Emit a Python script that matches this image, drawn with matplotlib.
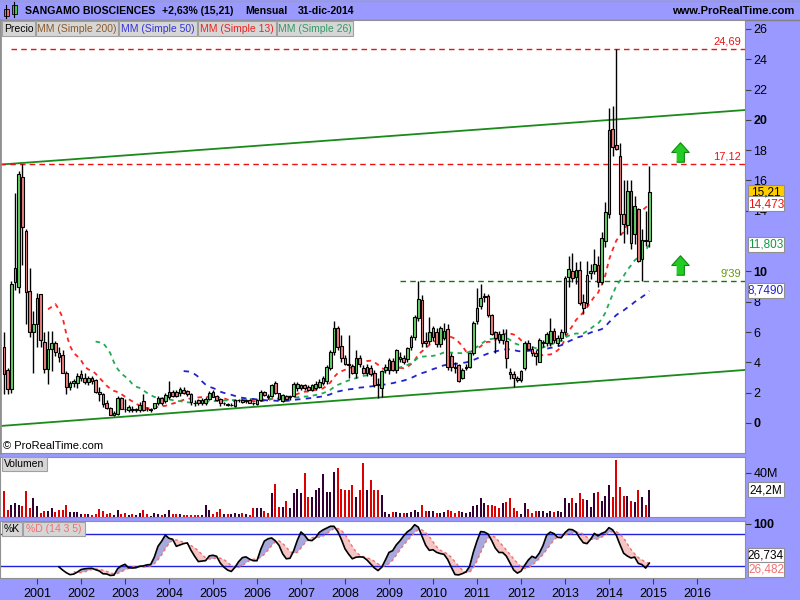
import matplotlib
matplotlib.use("Agg")
import matplotlib.pyplot as plt
import numpy as np
import pandas as pd
from matplotlib.patches import Rectangle

plt.rcParams['font.family'] = ['Liberation Sans', 'DejaVu Sans']

# monthly candles, Apr-2000 .. Dec-2014
opens = [5.0, 3.5, 2.25, 9.3, 9.0, 16.2, 12.7, 8.7, 6.0,
         6.5, 8.5, 5.35, 3.56, 4.9, 5.3, 4.6, 4.5, 3.3, 2.4, 2.64, 2.64,
         3.0, 3.0, 2.7, 3.0, 2.85, 2.05, 1.9, 1.3, 1.0, 0.55, 0.6, 1.65,
         0.95, 0.86, 0.95, 0.88, 0.86, 1.47, 0.95, 0.88, 1.0, 1.3, 1.63, 1.47,
         1.74, 2.07, 2.07, 1.98, 2.2, 2.1, 1.9, 1.35, 1.5, 1.3, 1.3, 1.6,
         2.07, 1.8, 1.6, 1.3, 1.25, 1.2, 1.1, 1.5, 1.5, 1.45, 1.5, 1.35,
         1.25, 1.52, 2.07, 1.75, 1.78, 2.66, 1.98, 1.47, 1.8, 1.7, 1.78, 2.3,
         2.3, 2.5, 2.4, 2.2, 2.3, 2.4, 2.64, 2.8, 3.6, 4.7, 6.3, 5.1,
         4.3, 3.9, 3.76, 3.3, 4.3, 3.6, 3.3, 3.6, 3.3, 2.55, 2.3, 3.5,
         3.5, 4.1, 3.5, 4.25, 4.3, 4.2, 5.0, 5.7, 6.9, 8.1, 5.4, 5.4,
         5.7, 6.0, 5.2, 5.6, 6.2, 4.4, 3.7, 3.8, 3.0, 3.6, 3.7, 4.6,
         6.7, 7.7, 8.3, 8.4, 7.1, 6.0, 5.9, 5.5, 5.4, 3.35, 3.25, 2.95,
         2.84, 3.6, 5.26, 4.9, 4.6, 4.05, 5.25, 5.3, 5.26, 6.1, 5.3, 5.6,
         6.0, 9.6, 10.0, 9.6, 10.1, 8.0, 7.9, 9.9, 10.05, 10.4, 9.33, 12.0,
         13.8, 19.4, 18.35, 17.6, 13.8, 13.07, 15.3, 12.5, 14.1, 10.8, 12.1, 12.0]
highs = [6.0, 3.6, 9.4, 15.2, 16.6, 17.12, 12.8, 10.2, 7.4,
         8.6, 8.5, 6.0, 6.1, 6.1, 5.4, 5.0, 4.8, 3.4, 2.8, 2.9, 3.3,
         3.5, 3.3, 3.1, 3.1, 2.9, 2.4, 1.95, 1.5, 1.05, 0.8, 1.75, 1.7,
         1.6, 1.2, 1.1, 1.0, 1.4, 1.9, 1.05, 1.0, 1.35, 1.75, 1.7, 1.95,
         2.77, 2.2, 2.2, 2.4, 2.4, 2.2, 2.0, 1.5, 1.6, 1.65, 1.7, 2.1,
         2.2, 1.85, 1.65, 1.4, 1.3, 1.3, 1.55, 1.6, 1.6, 1.6, 1.6, 1.4,
         1.6, 2.2, 2.1, 1.9, 2.6, 2.8, 2.0, 1.9, 1.85, 1.8, 2.7, 2.7,
         2.6, 2.6, 2.5, 2.6, 2.8, 2.9, 3.1, 3.8, 4.8, 6.7, 6.4, 5.8,
         4.5, 5.8, 3.9, 4.8, 4.5, 3.8, 3.9, 3.8, 3.5, 3.0, 3.5, 3.9,
         4.3, 4.3, 4.9, 4.7, 4.5, 5.0, 5.8, 7.1, 9.39, 8.45, 6.0, 7.0,
         6.4, 6.3, 6.4, 6.6, 6.5, 4.6, 4.0, 3.9, 3.6, 3.9, 4.7, 6.7,
         8.9, 9.17, 8.6, 8.5, 7.2, 6.1, 6.1, 6.2, 6.2, 3.6, 3.4, 3.1,
         3.5, 5.4, 5.5, 5.1, 4.8, 5.6, 5.5, 6.0, 6.9, 6.3, 5.8, 6.2,
         9.7, 11.0, 11.2, 10.6, 10.7, 8.5, 10.7, 10.5, 11.5, 11.0, 12.6, 14.6,
         20.8, 20.9, 24.69, 18.5, 16.0, 16.0, 16.0, 15.0, 14.2, 12.8, 14.0, 16.96]
lows = [1.9, 1.9, 2.0, 8.8, 8.6, 10.4, 6.5, 5.7, 3.3,
        5.0, 5.0, 3.3, 2.6, 3.4, 4.4, 4.0, 3.3, 1.9, 2.2, 2.4, 2.3,
        2.8, 2.6, 2.5, 2.6, 2.0, 1.45, 1.05, 0.9, 0.5, 0.45, 0.55, 0.9,
        0.7, 0.7, 0.75, 0.75, 0.75, 0.8, 0.8, 0.75, 0.9, 1.2, 1.2, 1.35,
        1.6, 1.7, 1.7, 1.8, 1.9, 1.8, 1.2, 1.1, 1.2, 1.2, 1.2, 1.5,
        1.7, 1.45, 1.1, 1.2, 1.15, 1.1, 1.05, 1.4, 1.3, 1.35, 1.3, 1.2,
        1.2, 1.45, 1.8, 1.6, 1.7, 1.9, 1.5, 1.4, 1.5, 1.5, 1.7, 2.1,
        2.2, 2.2, 2.1, 2.1, 2.2, 2.3, 2.5, 2.6, 3.5, 4.5, 4.8, 4.0,
        3.8, 3.0, 3.2, 3.0, 3.7, 3.2, 3.1, 3.1, 2.4, 1.65, 1.7, 3.3,
        3.2, 3.4, 3.3, 4.0, 3.9, 4.0, 4.8, 5.5, 6.7, 5.0, 5.0, 5.2,
        5.4, 5.0, 5.0, 5.5, 3.5, 3.4, 3.3, 2.7, 2.9, 3.5, 3.6, 4.5,
        6.5, 7.5, 8.0, 7.0, 5.8, 4.6, 5.3, 5.2, 3.6, 2.9, 2.35, 2.7,
        2.7, 3.5, 4.8, 4.4, 3.8, 4.0, 5.0, 5.1, 5.1, 5.3, 5.1, 5.4,
        5.8, 9.0, 9.3, 9.2, 7.8, 7.2, 7.7, 9.5, 9.8, 9.0, 9.2, 11.6,
        13.5, 17.6, 18.0, 12.4, 11.9, 12.5, 11.5, 11.8, 10.6, 9.39, 11.7, 11.6]
closes = [3.2, 2.25, 9.2, 10.2, 16.4, 12.9, 8.65, 6.0, 6.5,
          8.25, 5.5, 3.56, 4.9, 5.3, 4.7, 4.35, 3.3, 2.4, 2.64, 2.75, 3.1,
          3.2, 2.7, 3.0, 2.75, 2.05, 1.9, 1.25, 1.0, 0.55, 0.65, 1.65, 0.95,
          0.92, 1.05, 0.88, 0.9, 1.2, 0.86, 0.9, 0.9, 1.3, 1.67, 1.3, 1.85,
          2.07, 1.8, 1.8, 2.24, 1.98, 1.9, 1.4, 1.3, 1.3, 1.55, 1.6, 2.0,
          1.74, 1.5, 1.3, 1.3, 1.2, 1.2, 1.5, 1.5, 1.4, 1.55, 1.35, 1.3,
          1.55, 2.07, 1.85, 1.7, 2.5, 1.98, 1.6, 1.85, 1.6, 1.75, 2.6, 2.55,
          2.5, 2.3, 2.2, 2.5, 2.6, 2.7, 2.97, 3.7, 4.7, 6.3, 5.0, 4.3,
          3.9, 3.8, 3.3, 4.3, 3.9, 3.3, 3.7, 3.2, 2.5, 2.5, 3.4, 3.7,
          4.15, 3.5, 4.8, 4.35, 4.0, 4.95, 5.7, 7.0, 8.2, 5.26, 5.3, 6.0,
          6.3, 5.2, 6.3, 6.1, 3.7, 3.7, 3.6, 2.8, 3.5, 3.7, 4.6, 6.6,
          7.6, 8.25, 8.4, 7.1, 5.9, 5.6, 5.5, 5.9, 4.3, 3.2, 3.0, 2.84,
          3.4, 5.26, 4.9, 4.6, 4.4, 5.5, 5.35, 5.9, 6.1, 5.5, 5.6, 6.0,
          9.55, 10.15, 9.55, 10.1, 7.95, 7.6, 9.77, 10.0, 10.5, 9.33, 12.2, 13.9,
          19.3, 18.2, 18.06, 13.8, 13.1, 15.3, 11.86, 14.3, 10.7, 12.1, 12.0, 15.21]
# volume in millions
volume = [23.6, 6.4, 10.9, 12.4, 10.9, 10, 23.6, 7.9, 17,
          10, 3.9, 5.5, 5.5, 7.9, 4.8, 6.4, 6.4, 10.9, 4.8, 4.2, 4.8,
          2.7, 2.7, 2.7, 1.8, 2.7, 7.3, 5.5, 2.7, 3.9, 1.8, 6.4, 2.7,
          3.9, 1.8, 2.7, 1.8, 3.9, 6.4, 2.7, 1.2, 3.9, 2.7, 1.8, 2.7,
          6.4, 2.7, 2.7, 2.7, 1.8, 1.8, 1.8, 1.8, 1.8, 1.8, 10.9, 6.4,
          2.7, 4.8, 7.3, 2.7, 2.7, 2.7, 3.9, 2.7, 3.9, 2.7, 1.8, 7.9,
          7.9, 7.9, 5.5, 3.9, 22.1, 30, 9.4, 9.4, 14.5, 8.5, 22.1, 25.2,
          21.5, 39.7, 18.5, 18.5, 24.5, 26, 39, 23, 23, 41, 44.5, 25.2,
          24.5, 24.5, 29, 18.5, 24.5, 49.4, 24.5, 33.6, 24.5, 24.5, 20, 4.8,
          2.7, 4.8, 4.8, 4, 4, 4, 4.8, 6, 4.8, 11, 5.5, 5.5,
          5.5, 3.9, 3.9, 4.8, 6.4, 5.5, 3.9, 5.5, 4.8, 3.9, 4.8, 10,
          11, 17, 12.4, 11, 11, 10, 8.5, 13, 14, 17.6, 7.9, 5.5,
          3, 13, 7, 3.9, 5.5, 5.5, 5.5, 3.9, 5.5, 4.8, 5.5, 4.8,
          17, 12.4, 17.6, 12.4, 21.5, 16.4, 15.7, 9.4, 21.5, 22.4, 14.5, 19,
          29, 18, 52, 27, 19, 19, 14.8, 13.9, 24.8, 18, 11, 24.2]

years = list(range(2001, 2017))
first_month = -9          # Apr-2000, counted in months from Jan-2001
level_red = [24.69, 17.12]
level_red_lbl = ['24,69', '17,12']
level_green = 9.39
# trend lines: (month, price) at both ends
trend_hi = ([-10.1, 193.1], [17.05, 20.65])
trend_lo = ([-10.1, 193.1], [-0.2, 3.5])
arrows_x = [175.3, 175.3]
arrows_y = [17.9, 10.4]
price_ticks = [0, 2, 4, 6, 8, 10, 14, 16, 18, 20, 22, 24, 26]   # 12 sits under the MM26 box

W, H = 800, 600
XL = (-10.09, 193.1)


def rect(x0, y0, x1, y1):
    return [x0 / W, 1 - y1 / H, (x1 - x0) / W, (y1 - y0) / H]


o = np.array(opens); hi = np.array(highs); lo = np.array(lows); c = np.array(closes)
x = np.arange(len(c)) + first_month
up = c >= o

fig = plt.figure(figsize=(8, 6), dpi=100)

# background layer
bg = fig.add_axes([0, 0, 1, 1], zorder=-10)
bg.set_xlim(0, W); bg.set_ylim(H, 0); bg.axis('off')
bg.add_patch(Rectangle((0, 0), W, H, color='#9999ff'))
grad = np.linspace(0, 1, 20).reshape(-1, 1)
bg.imshow(grad, extent=(0, W, 20, 0), aspect='auto',
          cmap=matplotlib.colors.LinearSegmentedColormap.from_list('g', ['#eeeeee', '#c4c4c4']))
bg.plot([0, W], [20, 20], color='#808080', lw=1)
bg.plot([0, W], [0.5, 0.5], color='#a0a0a0', lw=1)

# ---------------- price panel
ax = fig.add_axes(rect(0, 20, 745, 453))
ax.set_xlim(*XL); ax.set_ylim(-1.98, 26.59)
for s in ax.spines.values():
    s.set_color('#909090')
ax.spines['left'].set_linewidth(2)
ax.set_xticks([])

ax.plot(trend_hi[0], trend_hi[1], color='#1a8a1a', lw=1.3, zorder=2)
ax.plot(trend_lo[0], trend_lo[1], color='#1a8a1a', lw=1.3, zorder=2)
ax.plot([-7, XL[1]], [level_red[0]] * 2, color='#ee1111', lw=1, ls=(0, (4, 3)), zorder=2)
ax.plot([XL[0], XL[1]], [level_red[1]] * 2, color='#ee1111', lw=1, ls=(0, (4, 3)), zorder=2)
ax.plot([99, XL[1]], [level_green] * 2, color='#117711', lw=1, ls=(0, (4, 3)), zorder=2)

cs = pd.Series(c)
ma13 = cs.rolling(13).mean(); ma26 = cs.rolling(26).mean(); ma50 = cs.rolling(50).mean()
ax.plot(x, ma13, color='#ff2222', lw=1.3, ls=(0, (2.5, 2.5)), zorder=3)
ax.plot(x, ma26, color='#22aa55', lw=1.3, ls=(0, (2.5, 2.5)), zorder=3)
ax.plot(x, ma50, color='#2222cc', lw=1.3, ls=(0, (3, 3)), zorder=3)

ax.vlines(x, lo, hi, color='black', lw=1, zorder=4)
ax.bar(x, np.maximum(np.abs(c - o), 0.02), bottom=np.minimum(o, c), width=0.72,
       color=np.where(up, '#66d466', '#f08080'), edgecolor='black', linewidth=0.8, zorder=5)

arrow = [(-0.2, -0.5), (0.2, -0.5), (0.2, 0.0), (0.45, 0.0), (0, 0.5), (-0.45, 0.0), (-0.2, 0.0)]
ax.plot(arrows_x, arrows_y, ls='none', marker=arrow, ms=14, mfc='#22cc22', mec='#118811', mew=0.8, zorder=6)

ax.text(XL[1] - 1, level_red[0] + 0.12, level_red_lbl[0], color='#ee1111', fontsize=8, ha='right', va='bottom')
ax.text(XL[1] - 1, level_red[1] + 0.12, level_red_lbl[1], color='#ee1111', fontsize=8, ha='right', va='bottom')
ax.text(XL[1] - 1, level_green + 0.12, "9'39", color='#669900', fontsize=8, ha='right', va='bottom')
ax.text(0.004, 0.005, '© ProRealTime.com', transform=ax.transAxes, fontsize=8, va='bottom')

ax.yaxis.tick_right()
ax.set_yticks(price_ticks)
ax.tick_params(axis='y', direction='out', length=4, width=0.8, color='#404040', labelsize=9, pad=2)
for t, v in zip(ax.get_yticklabels(), price_ticks):
    if v % 10 == 0:
        t.set_fontweight('bold')

# ---------------- volume panel
av = fig.add_axes(rect(0, 457, 745, 517))
av.set_xlim(*XL); av.set_ylim(0, 54.5)
for s in av.spines.values():
    s.set_color('#909090')
av.bar(x, volume, width=0.55, color=np.where(up, '#330033', '#dd0000'))
av.set_xticks([])
av.yaxis.tick_right()
av.set_yticks([40]); av.set_yticklabels(['40M'])
av.tick_params(axis='y', direction='out', length=4, width=0.8, color='#404040', labelsize=9, pad=2)

# ---------------- stochastic panel
ast = fig.add_axes(rect(0, 521, 745, 578))
ast.set_xlim(*XL); ast.set_ylim(-2, 105)
for s in ast.spines.values():
    s.set_color('#909090')
hh = pd.Series(hi).rolling(14).max(); ll = pd.Series(lo).rolling(14).min()
fastk = 100 * (cs - ll) / (hh - ll)
k = fastk.rolling(3).mean()
d = k.rolling(5).mean()
ast.axhline(80, color='#2222dd', lw=1)
ast.axhline(20, color='#2222dd', lw=1)
ast.fill_between(x, k, d, where=(k >= d), interpolate=True, color='#a8a8dc', lw=0)
ast.fill_between(x, k, d, where=(k < d), interpolate=True, color='#f5c4c4', lw=0)
ast.plot(x, d, color='#f07070', lw=1, ls=(0, (2, 2)))
ast.plot(x, k, color='black', lw=1.2)
ast.yaxis.tick_right()
ast.set_yticks([100]); ast.set_yticklabels(['100'])
ast.tick_params(axis='y', direction='out', length=4, width=0.8, color='#404040', labelsize=9, pad=2)
ast.get_yticklabels()[0].set_fontweight('bold')
ast.set_xticks([(yr - 2001) * 12 for yr in years])
ast.set_xticklabels([str(yr) for yr in years])
ast.tick_params(axis='x', direction='out', length=4, width=0.8, color='#404040', labelsize=9, pad=3)

# ---------------- overlay: header, buttons, value boxes
ov = fig.add_axes([0, 0, 1, 1], zorder=10)
ov.set_xlim(0, W); ov.set_ylim(H, 0); ov.axis('off'); ov.patch.set_alpha(0)

# icon
ov.plot([6, 6], [5, 18], color='black', lw=0.8)
ov.add_patch(Rectangle((3.5, 9), 5, 7, fc='#f07070', ec='black', lw=0.6))
ov.plot([14, 14], [2, 17], color='black', lw=0.8)
ov.add_patch(Rectangle((11.5, 5), 5, 9, fc='#44cc44', ec='black', lw=0.6))

hdr = [('SANGAMO BIOSCIENCES', 25), ('+2,63% (15,21)', 162), ('Mensual', 245), ('31-dic-2014', 298)]
for txt, xp in hdr:
    ov.text(xp, 11, txt, fontsize=7.6, fontweight='bold', va='center', ha='left')
ov.text(794, 11, 'www.ProRealTime.com', fontsize=8, fontweight='bold', va='center', ha='right')

buttons = [('Precio', 2, 35, 'black'), ('MM (Simple 200)', 36, 118, '#8b5a2b'),
           ('MM (Simple 50)', 119, 197, '#3333dd'), ('MM (Simple 13)', 198, 276, '#ee2222'),
           ('MM (Simple 26)', 277, 353, '#339966')]
for txt, x0, x1, col in buttons:
    ov.add_patch(Rectangle((x0, 21), x1 - x0, 15, fc='#d6d6d6', ec='#a0a0a0', lw=0.8))
    ov.text((x0 + x1) / 2, 28.5, txt, color=col, fontsize=7.5, ha='center', va='center')

for txt, x0, x1, y0, col in [('Volumen', 2, 47, 457, 'black'), ('%K', 2, 22, 522, 'black'),
                             ('%D (14 3 5)', 23, 85, 522, '#f07070')]:
    ov.add_patch(Rectangle((x0, y0), x1 - x0, 14, fc='#d6d6d6', ec='#a0a0a0', lw=0.8))
    ov.text((x0 + x1) / 2, y0 + 7, txt, color=col, fontsize=7.5, ha='center', va='center')


def vbox(yc, txt, col, fc='white'):
    ov.add_patch(Rectangle((748, yc - 8), 36, 15, fc=fc, ec='#909090', lw=0.8))
    ov.text(766, yc, txt, color=col, fontsize=8.5, ha='center', va='center')


def py(v):
    return 423 - v * 15.154


vbox(py(c[-1]), '15,21', 'black', '#ffcc00')
vbox(py(ma13.iloc[-1]), '14,473', '#ee1111')
vbox(py(ma26.iloc[-1]), '11,803', '#119944')
vbox(py(ma50.iloc[-1]), '8,7490', '#2222cc')
vbox(517 - volume[-1] * 1.1, '24,2M', 'black')
vbox(556, '26,734', 'black')
vbox(570, '26,482', '#f07070')

fig.savefig('out.png', dpi=100)
